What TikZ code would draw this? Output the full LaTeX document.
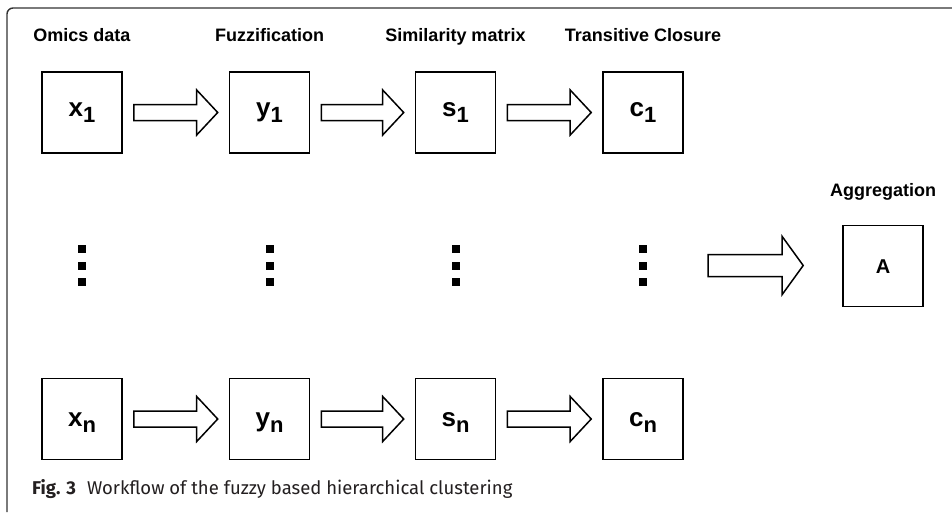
\documentclass[tikz,border=0pt]{standalone}
\usepackage{fontspec}
\setmainfont{Liberation Sans}
\newfontfamily\capfont{Fira Sans}
\usepackage{xcolor}
\usetikzlibrary{calc}
\definecolor{FrameGrey}{HTML}{333333}
\definecolor{CapText}{HTML}{231F20}
\newcommand\lowidx[1]{\raisebox{-6.5pt}{\fontsize{22}{24}\selectfont #1}}
\newcommand\hollowarrow[4]{\draw[blockarrow] let \p1=(#1),\p2=(#2) in (\x1,\y1+#3) -- (\x2-21pt,\y1+#3) -- (\x2-21pt,\y1+#4) -- (\x2,\y1) -- (\x2-21pt,\y1-#4) -- (\x2-21pt,\y1-#3) -- (\x1,\y1-#3) -- cycle;}

\begin{document}
\begin{tikzpicture}[x=1pt,y=-1pt,font=\fontsize{18}{21}\selectfont\bfseries,stage/.style={anchor=base,inner sep=0pt},box/.style={draw=black,line width=1.6pt,minimum width=80pt,minimum height=81pt,inner sep=0pt,text depth=0pt,font=\fontsize{26}{28}\selectfont\bfseries},blockarrow/.style={draw=black,fill=white,line width=1.5pt,line join=miter}]
\useasboundingbox (0,0) rectangle (952,512);
\fill[white] (0,0) rectangle (952,512);
\draw[FrameGrey,line width=1.4pt,rounded corners=6pt] (7,512) -- (7,8) -- (952,8);
\foreach \cx/\lab/\nm in {82/Omics data/hx,269.5/Fuzzification/hy,455.5/Similarity matrix/hs,643/Transitive Closure/hc}{\node[stage] (\nm) at (\cx,41) {\lab};}
\foreach \cx/\v in {82/x,269.5/y,455.5/s,643/c}{\node[box,text height=7pt] (top\v) at (\cx,112.5) {\v\lowidx{1}};\node[box,text height=14pt] (bot\v) at (\cx,419) {\v\lowidx{n}};}
\foreach \cx in {82,269.5,455.5,643}{\foreach \dy in {249,265.5,282}{\fill (\cx-4,\dy-4) rectangle (\cx+4,\dy+4);}}
\coordinate (dotsc) at (643,265.5);
\foreach \r in {top,bot}{\foreach \a/\b in {x/y,y/s,s/c}{\hollowarrow{$(\r\a.east)+(11,0)$}{$(\r\b.west)+(-11,0)$}{8pt}{22.5pt}}}
\node[stage] (hagg) at (883,196) {Aggregation};
\node[box,text height=14pt,font=\fontsize{20}{22}\selectfont\bfseries] (agg) at (883,266) {A};
\hollowarrow{$(dotsc)+(65,0)$}{$(agg.west)+(-39,0)$}{11pt}{29pt}
\node[anchor=base west,inner sep=0pt,font=\capfont\fontsize{18.5}{20}\selectfont,text=CapText] (caption) at (32,494) {\textbf{Fig. 3}\hspace{0.6em}Workflow of the fuzzy based hierarchical clustering};
\end{tikzpicture}
\end{document}
